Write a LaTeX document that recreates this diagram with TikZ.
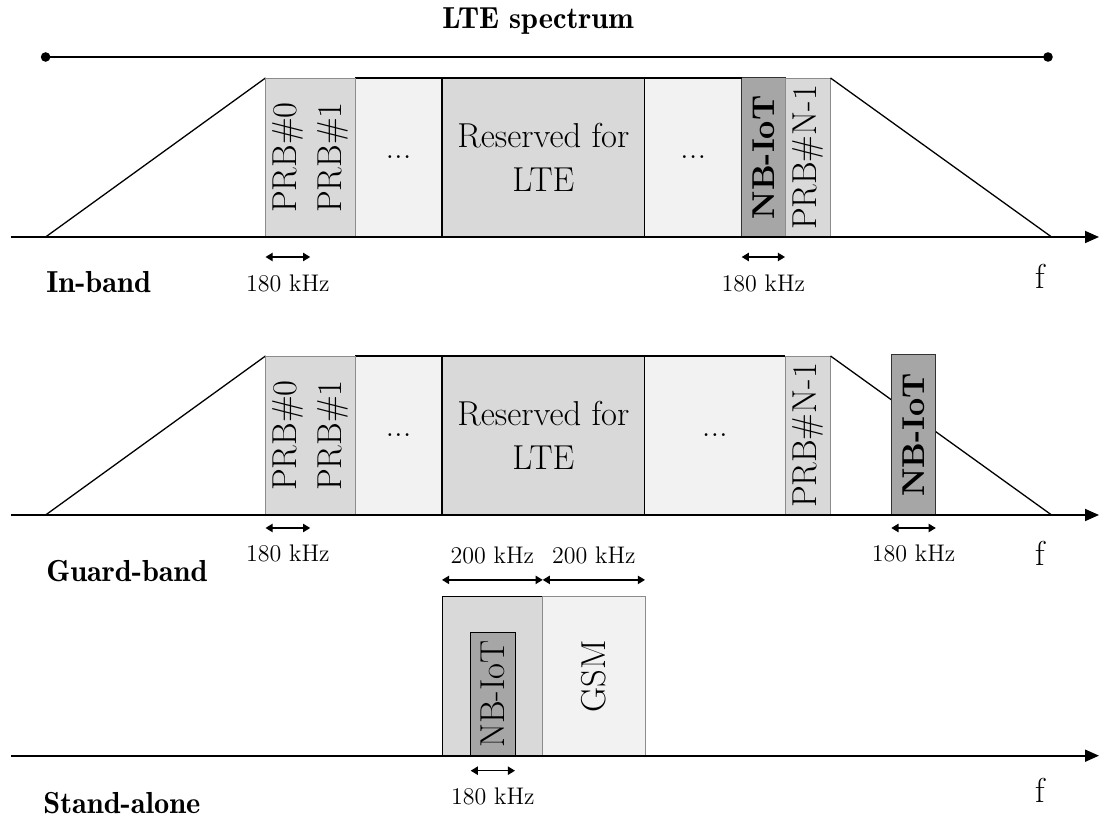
\documentclass[tikz,border=0pt]{standalone}
\usepackage{fontspec}
\usetikzlibrary{arrows.meta}
% demi-bold Latin Modern for the row labels, bold for the highlighted NB-IoT carriers
\newfontfamily\lmdemi{lmromandemi10-regular.otf}
\newfontfamily\lmbold{lmroman10-bold.otf}
\definecolor{prbgray}{HTML}{D9D9D9}
\definecolor{dotgray}{HTML}{F2F2F2}
\definecolor{nbgray}{HTML}{A6A6A6}
\begin{document}
\begin{tikzpicture}[x=0.5pt,y=-0.5pt,
  cell/.style 2 args={inner sep=0pt,outer sep=0pt,anchor=north west,
    minimum width={#1*0.5pt},minimum height={#2*0.5pt}},
  txt/.style={font=\fontsize{17.3}{22}\selectfont},
  rot/.style={txt,rotate=90,inner sep=0pt},
  rotb/.style={rotate=90,inner sep=0pt,font=\lmbold\fontsize{15.8}{19}\selectfont},
  lab/.style={font=\lmdemi\fontsize{15.2}{19}\selectfont,inner sep=0pt},
  small/.style={font=\fontsize{12}{14}\selectfont,inner sep=0pt},
  outline/.style={line width=0.65pt,line join=miter},
  axis/.style={line width=0.9pt,-{Triangle[length=7pt,width=6pt]}},
  dim/.style={line width=0.65pt,{Triangle[length=3.6pt,width=4.2pt]}-{Triangle[length=3.6pt,width=4.2pt]}},
  thinbox/.style={draw=black!45,line width=0.4pt},
  darkbox/.style={draw=black!80,line width=0.5pt}]
\useasboundingbox (0,0) rectangle (1099,823);

% ---------- title and span of the LTE carrier ----------
\node[lab] (title) at (538,21) {LTE spectrum};
\coordinate (sL) at (45.6,57);
\coordinate (sR) at (1048,57);
\draw[line width=0.75pt] (sL) -- (sR);
\fill (sL) circle (2.4pt);
\fill (sR) circle (2.4pt);

% ---------- In-band ----------
\node[cell={87}{159},fill=dotgray] (ia) at (355,78) {};
\node[cell={202.7}{159},fill=prbgray] (ires) at (442,78) {};
\node[cell={97}{159},fill=dotgray] (ib) at (644.7,78) {};
\coordinate (il) at (45.6,237);
\coordinate (ir) at (1051.6,237);
\node[cell={44.7}{159},fill=prbgray] (ip0) at (265.5,78) {};
\node[cell={44.8}{159},fill=prbgray] (ip1) at (310.2,78) {};
\node[cell={43.3}{159},fill=nbgray,darkbox] (inb) at (741.7,78) {};
\node[cell={45.5}{159},fill=prbgray,thinbox] (ipn) at (785,78) {};
\draw[outline] (il) -- (ip0.north west);
\draw[outline] (ipn.north east) -- (ir);
\draw[outline] (ip1.north east) -- (inb.north west);
\draw[thinbox] (ip0.north west) rectangle (ip1.south east);
\draw[line width=0.6pt] (ires.north west) rectangle (ires.south east);
\node[rot] at (ip0) {PRB\#0};
\node[rot] at (ip1) {PRB\#1};
\node[txt] at (ia) {...};
\node[txt,align=center] at (ires) {Reserved for\\LTE};
\node[txt] at (ib) {...};
\node[rotb] at (inb) {NB-IoT};
\node[rot] at (ipn) {PRB\#N-1};
\coordinate (i0) at (10.5,237);
\coordinate (i1) at (1099,237);
\draw[axis] (i0) -- (i1);
\draw[dim] ([yshift=-10pt]ip0.south west) -- ([yshift=-10pt]ip0.south east)
  node[small,midway,yshift=-13pt] {180 kHz};
\draw[dim] ([yshift=-10pt]inb.south west) -- ([yshift=-10pt]inb.south east)
  node[small,midway,yshift=-13pt] {180 kHz};
\node[txt] (f1) at (1040,276) {f};
\node[lab,anchor=west] (inband) at (46,282) {In-band};

% ---------- Guard-band ----------
\node[cell={87}{159},fill=dotgray] (ga) at (355,356) {};
\node[cell={202.7}{159},fill=prbgray] (gres) at (442,356) {};
\node[cell={140.3}{159},fill=dotgray] (gb) at (644.7,356) {};
\coordinate (gl) at (45.6,515);
\coordinate (gr) at (1051.6,515);
\node[cell={44.7}{159},fill=prbgray] (gp0) at (265.5,356) {};
\node[cell={44.8}{159},fill=prbgray] (gp1) at (310.2,356) {};
\node[cell={45.5}{159},fill=prbgray,thinbox] (gpn) at (785,356) {};
\draw[outline] (gl) -- (gp0.north west);
\draw[outline] (gpn.north east) -- (gr);
\draw[outline] (gp1.north east) -- (gpn.north west);
\draw[thinbox] (gp0.north west) rectangle (gp1.south east);
\draw[line width=0.6pt] (gres.north west) rectangle (gres.south east);
\node[cell={44.5}{160},fill=nbgray,darkbox] (gnb) at (891.3,355) {};
\node[rot] at (gp0) {PRB\#0};
\node[rot] at (gp1) {PRB\#1};
\node[txt] at (ga) {...};
\node[txt,align=center] at (gres) {Reserved for\\LTE};
\node[txt] at (gb) {...};
\node[rot] at (gpn) {PRB\#N-1};
\node[rotb] at (gnb) {NB-IoT};
\coordinate (g0) at (10.5,515);
\coordinate (g1) at (1099,515);
\draw[axis] (g0) -- (g1);
\draw[dim] ([yshift=-6.5pt]gp0.south west) -- ([yshift=-6.5pt]gp0.south east)
  node[small,midway,yshift=-12.5pt] {180 kHz};
\draw[dim] ([yshift=-6.5pt]gnb.south west) -- ([yshift=-6.5pt]gnb.south east)
  node[small,midway,yshift=-12.5pt] {180 kHz};
\node[txt] (f2) at (1040,553) {f};
\node[lab,anchor=west] (guard) at (46,571) {Guard-band};

% ---------- Stand-alone ----------
\node[cell={100.7}{159},fill=prbgray,draw=black,line width=0.5pt] (sa) at (442,596.7) {};
\node[cell={102.3}{159},fill=dotgray,thinbox] (gsm) at (542.7,596.7) {};
\node[cell={44.3}{123.4},fill=nbgray,draw=black,line width=0.5pt] (snb) at (470.7,632.3) {};
\node[rot] at (snb) {NB-IoT};
\node[rot] at (gsm) {GSM};
\draw[dim] ([yshift=8.4pt]sa.north west) -- ([yshift=8.4pt]sa.north east)
  node[small,midway,yshift=12pt] {200 kHz};
\draw[dim] ([yshift=8.4pt]gsm.north west) -- ([yshift=8.4pt]gsm.north east)
  node[small,midway,yshift=12pt] {200 kHz};
\coordinate (a0) at (10.5,755.7);
\coordinate (a1) at (1099,755.7);
\draw[axis] (a0) -- (a1);
\draw[dim] ([yshift=-7.5pt]snb.south west) -- ([yshift=-7.5pt]snb.south east)
  node[small,midway,yshift=-13pt] {180 kHz};
\node[txt] (f3) at (1040,790) {f};
\node[lab,anchor=west] (standalone) at (43,803) {Stand-alone};
\end{tikzpicture}
\end{document}
